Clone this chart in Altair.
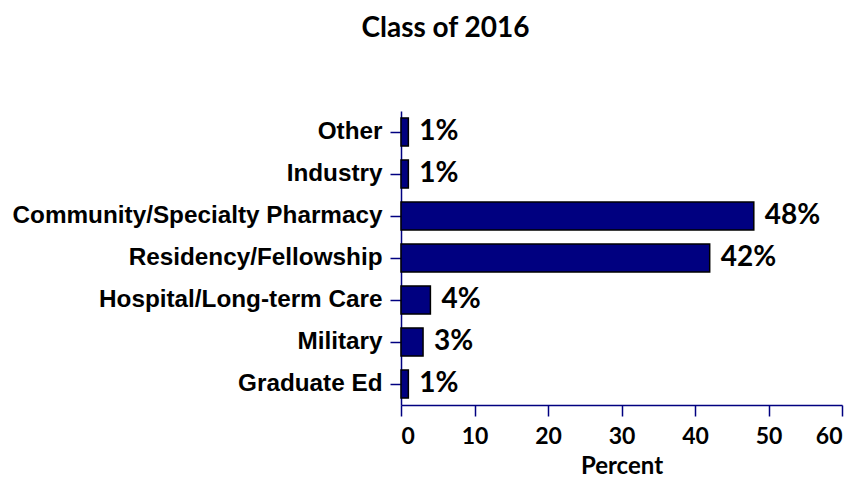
import altair as alt
import pandas as pd

categories = ["Other", "Industry", "Community/Specialty Pharmacy", "Residency/Fellowship",
              "Hospital/Long-term Care", "Military", "Graduate Ed"]
values = [1, 1, 48, 42, 4, 3, 1]
labels = ["1%", "1%", "48%", "42%", "4%", "3%", "1%"]
x_ticks = [0, 10, 20, 30, 40, 50, 60]

df = pd.DataFrame({"cat": categories, "val": values, "lab": labels})

NAVY = "#000080"
GEO = "Lato"

y_enc = alt.Y("cat:N", sort=categories, title=None,
              scale=alt.Scale(paddingInner=0.33, paddingOuter=0.165),
              axis=alt.Axis(labelFont="Liberation Sans", labelFontWeight="bold", labelFontSize=24.3,
                            labelColor="black", labelPadding=8, tickSize=11, tickColor=NAVY,
                            tickWidth=1.5, domainColor=NAVY, domainWidth=1.5, labelLimit=500))

x_enc = alt.X("val:Q", title="Percent", scale=alt.Scale(domain=[0, 60], nice=False),
              axis=alt.Axis(values=x_ticks, grid=False, labelFont=GEO, labelFontWeight="bold",
                            labelFontSize=23, labelColor="black", labelPadding=9, tickSize=11,
                            tickColor=NAVY, tickWidth=1.5, domainColor=NAVY, domainWidth=1.5,
                            titleFont=GEO, titleFontWeight="bold", titleFontSize=24,
                            titleColor="black", titlePadding=6))

bars = alt.Chart(df).mark_bar(color=NAVY, stroke="black", strokeWidth=1.5).encode(x=x_enc, y=y_enc)
text = alt.Chart(df).mark_text(align="left", baseline="middle", dx=11, font=GEO,
                               fontWeight="bold", fontSize=28, color="black").encode(
    x="val:Q", y=alt.Y("cat:N", sort=categories), text="lab:N")

chart = (bars + text).properties(
    width=441, height=294,
    autosize=alt.AutoSizeParams(type="none"),
    padding={"left": 393, "top": 103, "right": 8, "bottom": 76},
    title=alt.TitleParams("Class of 2016", font=GEO, fontWeight="bold", fontSize=28,
                          color="black", anchor="middle", dx=-176, offset=68),
).configure_view(stroke=None)

chart.save("out.html", embed_options={"renderer": "svg", "actions": False})
